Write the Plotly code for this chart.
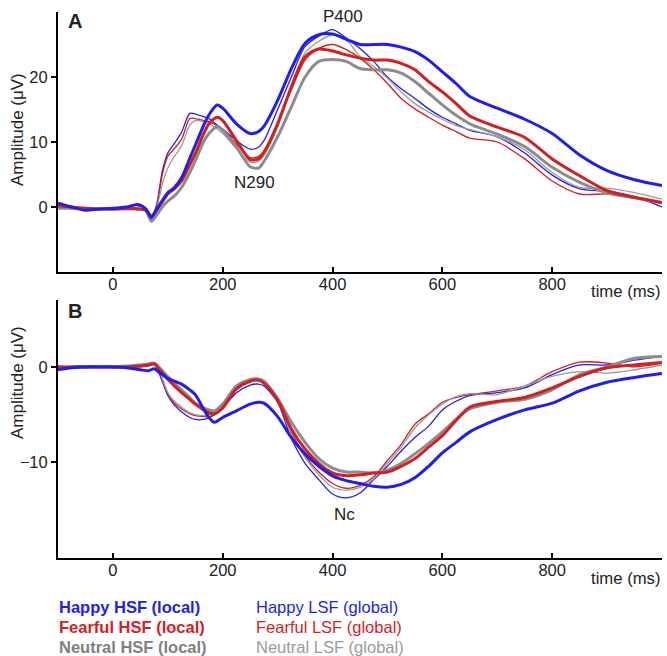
import plotly.graph_objects as go

# ---- data (time in ms, amplitude in microvolts) ----
time_a = [-100, -75, -50, -25, 0, 25, 45, 60, 70, 80, 90, 100, 112, 125, 140, 150, 165, 175, 190, 200,
          225, 250, 265, 275, 300, 325, 350, 375, 400, 425, 450, 475, 500, 525, 550, 575, 600, 625, 650,
          700, 750, 800, 850, 900, 950, 1000]

happy_hsf_a = [0.6, 0.0, -0.5, -0.3, -0.2, 0.0, 0.4, -0.3, -1.6, -0.3, 1.0, 2.2, 3.0, 4.5, 7.5, 9.5, 12.5, 14.2, 15.7, 15.2,
               12.8, 11.3, 11.6, 12.4, 16.4, 21.3, 25.2, 26.5, 26.6, 25.8, 25.0, 25.0, 25.0, 24.6, 23.9, 22.6, 20.8, 19.0, 17.0,
               15.2, 13.5, 11.3, 8.0, 5.6, 4.2, 3.3]
happy_lsf_a = [0.3, -0.2, -0.4, -0.3, -0.2, 0.0, 0.2, -0.3, -2.0, 0.5, 5.5, 8.3, 9.8, 11.5, 14.4, 14.3, 13.9, 13.6, 12.6, 12.0,
               10.2, 8.9, 9.2, 10.2, 15.0, 20.0, 24.7, 26.3, 27.3, 26.0, 24.4, 22.4, 20.0, 18.2, 16.7, 15.1, 13.8, 12.8, 11.8,
               10.8, 8.3, 4.9, 2.8, 2.4, 1.6, 0.0]
fearful_hsf_a = [0.2, 0.0, -0.2, -0.3, -0.3, -0.2, -0.3, -0.5, -1.4, -0.4, 0.8, 2.0, 2.8, 4.0, 6.5, 8.2, 11.2, 12.8, 13.8, 13.3,
                 10.2, 7.3, 7.4, 8.4, 12.8, 18.5, 23.1, 24.3, 24.0, 23.4, 22.9, 22.6, 22.6, 22.1, 21.1, 19.3, 17.7, 15.9, 14.0,
                 12.3, 10.7, 7.4, 4.8, 2.5, 1.5, 0.7]
fearful_lsf_a = [0.0, -0.1, -0.1, -0.3, -0.4, -0.2, -0.2, -0.4, -1.3, 0.3, 5.0, 7.8, 9.0, 10.4, 13.6, 13.6, 13.3, 13.1, 12.5, 11.8,
                 9.7, 7.6, 7.8, 8.6, 12.8, 18.0, 22.6, 24.4, 25.0, 24.2, 22.9, 21.1, 19.0, 16.7, 15.1, 13.8, 12.6, 11.6, 10.6,
                 10.0, 7.4, 4.0, 2.0, 2.0, 1.4, 0.6]
neutral_hsf_a = [-0.2, -0.2, -0.2, -0.3, -0.3, -0.3, -0.3, -0.6, -2.2, -1.2, 0.0, 0.9, 1.7, 3.0, 5.3, 7.1, 10.0, 11.3, 12.4, 11.8,
                 9.2, 6.2, 6.0, 7.0, 10.8, 15.4, 20.0, 22.4, 22.7, 22.4, 21.3, 21.1, 21.1, 20.6, 19.3, 17.5, 15.7, 14.1, 12.8,
                 11.2, 9.3, 6.1, 3.8, 2.2, 1.4, 0.6]
neutral_lsf_a = [-0.1, -0.1, -0.2, -0.2, -0.2, -0.2, -0.2, -0.5, -1.8, 0.0, 3.5, 6.0, 7.8, 9.4, 12.6, 13.3, 13.1, 12.8, 12.0, 11.3,
                 9.0, 6.9, 7.0, 7.9, 12.3, 18.5, 23.7, 25.5, 26.5, 25.7, 23.2, 21.6, 19.8, 17.7, 15.9, 14.6, 13.5, 12.5, 11.9,
                 10.8, 8.8, 5.3, 3.0, 2.9, 2.2, 1.2]

time_b = [-100, -75, -50, -25, 0, 25, 50, 65, 75, 85, 100, 112, 125, 140, 150, 165, 175, 185, 200, 225, 250, 265, 275,
          300, 325, 350, 375, 400, 425, 450, 475, 500, 525, 550, 575, 600, 625, 650, 700, 750, 800, 850, 900, 950, 1000]

happy_hsf_b = [-0.3, -0.1, 0.0, 0.0, 0.0, -0.1, -0.3, -0.4, -0.2, -0.6, -1.2, -1.5, -1.8, -2.4, -2.9, -4.4, -5.3, -5.8, -5.3,
               -4.6, -3.9, -3.7, -3.8, -5.2, -7.4, -9.1, -10.4, -11.4, -11.9, -12.2, -12.5, -12.6, -12.3, -11.6, -10.4, -9.0,
               -7.9, -6.8, -5.5, -4.5, -3.8, -2.5, -1.6, -1.1, -0.7]
happy_lsf_b = [0.1, 0.0, 0.0, 0.0, 0.0, 0.0, 0.0, 0.1, 0.3, -0.8, -3.0, -4.0, -4.7, -5.3, -5.5, -5.5, -5.3, -5.0, -4.3,
               -2.7, -1.9, -1.8, -2.0, -3.7, -7.5, -10.1, -11.8, -13.3, -13.7, -13.2, -11.8, -10.4, -8.8, -7.4, -6.2, -4.5,
               -3.6, -3.0, -2.7, -2.2, -0.8, 0.2, 0.2, 0.7, 1.1]
fearful_hsf_b = [-0.1, 0.0, 0.0, 0.0, 0.0, 0.0, 0.1, 0.2, 0.3, -0.3, -1.3, -2.0, -2.7, -3.4, -3.9, -4.5, -4.8, -4.9, -4.3,
                 -2.3, -1.5, -1.4, -1.7, -3.5, -6.5, -8.6, -10.1, -11.1, -11.4, -11.3, -11.1, -11.0, -10.4, -9.6, -8.4, -7.2,
                 -5.6, -4.2, -3.6, -3.2, -2.2, -1.0, -0.1, 0.2, 0.45]
fearful_lsf_b = [0.0, 0.0, 0.0, 0.0, 0.0, 0.1, 0.2, 0.3, 0.3, -0.6, -2.8, -3.8, -4.4, -4.9, -5.1, -5.2, -5.2, -5.0, -4.2,
                 -2.3, -1.3, -1.2, -1.5, -3.4, -6.8, -9.3, -11.0, -12.2, -12.7, -12.4, -11.5, -9.8, -8.1, -6.0, -4.9, -3.7,
                 -3.2, -2.9, -2.5, -2.0, -0.5, 0.5, 0.4, 0.0, 0.4]
neutral_hsf_b = [0.0, 0.0, 0.0, 0.0, 0.0, 0.1, 0.2, 0.3, 0.4, -0.1, -1.0, -1.7, -2.4, -3.2, -3.8, -4.3, -4.5, -4.6, -3.9,
                 -2.0, -1.35, -1.3, -1.5, -3.3, -5.8, -7.9, -9.6, -10.6, -11.0, -11.0, -11.1, -10.8, -10.1, -9.1, -8.0, -6.8,
                 -5.5, -4.4, -3.7, -3.4, -2.4, -0.8, 0.0, 0.9, 1.1]
neutral_lsf_b = [0.0, 0.0, 0.0, 0.0, 0.0, 0.1, 0.2, 0.3, 0.4, -0.5, -2.7, -3.6, -4.2, -4.8, -5.0, -5.1, -5.0, -4.9, -4.2,
                 -2.4, -1.5, -1.4, -1.7, -3.5, -7.0, -9.5, -11.3, -12.6, -12.9, -12.6, -11.7, -10.1, -8.4, -6.4, -5.0, -3.9,
                 -3.1, -2.8, -2.9, -2.0, -1.0, -0.5, -0.65, -0.3, 0.2]

x_ticks = [0, 200, 400, 600, 800, 1000]
x_tick_text = ["0", "200", "400", "600", "800", ""]

BLUE = "#1f1fe8"
RED = "#d21f1f"
GRAY = "#8c8c8c"
GRAY_THIN = "#9a9a9a"
FONT = "Liberation Sans, Arial, sans-serif"

W, H = 667, 656


def px_x(px):
    return px / W


def px_y(py):
    return 1 - py / H


fig = go.Figure()

panels = [
    ("x", "y", time_a, [happy_lsf_a, fearful_lsf_a, neutral_lsf_a], [neutral_hsf_a, fearful_hsf_a, happy_hsf_a]),
    ("x2", "y2", time_b, [happy_lsf_b, fearful_lsf_b, neutral_lsf_b], [neutral_hsf_b, fearful_hsf_b, happy_hsf_b]),
]
for xa, ya, t, thin, thick in panels:
    for vals, col in zip(thin, [BLUE, RED, GRAY_THIN]):
        fig.add_trace(go.Scatter(x=t, y=vals, xaxis=xa, yaxis=ya, mode="lines",
                                 line=dict(color=col, width=1.3, shape="spline", smoothing=0.8),
                                 hoverinfo="skip", showlegend=False))
    for vals, col in zip(thick, [GRAY, RED, BLUE]):
        fig.add_trace(go.Scatter(x=t, y=vals, xaxis=xa, yaxis=ya, mode="lines",
                                 line=dict(color=col, width=3, shape="spline", smoothing=0.8),
                                 hoverinfo="skip", showlegend=False))

x_common = dict(range=[-100, 1000], tickvals=x_ticks, ticktext=x_tick_text, ticks="inside", ticklen=5,
                tickwidth=1.5, tickcolor="black", showline=True, linecolor="black", linewidth=2,
                showgrid=False, zeroline=False, tickfont=dict(size=16.5, color="#222", family=FONT),
                ticklabelstandoff=-4, domain=[px_x(58), px_x(662)])
y_common = dict(ticks="outside", ticklen=5, tickwidth=1.5, tickcolor="black", showline=True,
                linecolor="black", linewidth=2, showgrid=False, zeroline=False,
                tickfont=dict(size=16.5, color="#222", family=FONT))

fig.update_layout(
    width=W, height=H,
    margin=dict(l=0, r=0, t=0, b=0),
    plot_bgcolor="white", paper_bgcolor="white",
    font=dict(family=FONT, color="#222"),
    xaxis=dict(anchor="y", **x_common),
    yaxis=dict(anchor="x", range=[-10, 30], tickvals=[0, 10, 20],
               domain=[px_y(272), px_y(12)], **y_common),
    xaxis2=dict(anchor="y2", **x_common),
    yaxis2=dict(anchor="x2", range=[-20, 7], tickvals=[-10, 0],
                domain=[px_y(558), px_y(300)], **y_common),
)


def label(text, x, y, size=15, color="#222", xanchor="center", angle=0):
    fig.add_annotation(text=text, x=px_x(x), y=px_y(y), xref="paper", yref="paper",
                       xanchor=xanchor, yanchor="middle", showarrow=False, textangle=angle,
                       font=dict(size=size, color=color, family=FONT))


label("<b>A</b>", 66, 21, size=20, xanchor="left")
label("<b>B</b>", 66, 311, size=20, xanchor="left")
label("P400", 343, 17, size=17)
label("N290", 254, 182, size=17)
label("Nc", 344, 514, size=17)
label("time (ms)", 663, 291, size=16.7, xanchor="right")
label("time (ms)", 663, 578, size=16.7, xanchor="right")
label("Amplitude (μV)", 17, 130, size=17, angle=-90)
label("Amplitude (μV)", 17, 383, size=17, angle=-90)

legend_left = ["Happy HSF (local)", "Fearful HSF (local)", "Neutral HSF (local)"]
legend_right = ["Happy LSF (global)", "Fearful LSF (global)", "Neutral LSF (global)"]
legend_cols = [BLUE, RED, "#808080"]
for i, (lt, rt, col) in enumerate(zip(legend_left, legend_right, legend_cols)):
    yy = 607 + i * 20
    label(f"<b>{lt}</b>", 57, yy, size=16.5, color=col, xanchor="left")
    label(rt, 254, yy, size=16.5, color=col if i < 2 else "#9a9a9a", xanchor="left")

# the page body has a default 8px margin; drop it so the figure fills the window
fig.write_html("out.html", config={"displayModeBar": False},
               post_script="document.body.style.margin='0';")
